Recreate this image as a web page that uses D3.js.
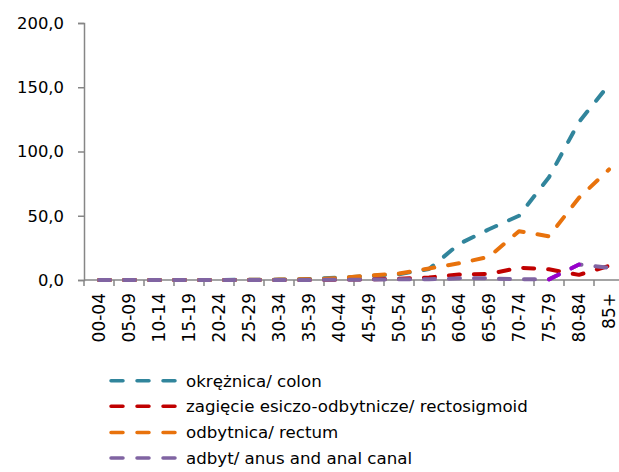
<!DOCTYPE html>
<html>
<head>
<meta charset="utf-8">
<script src="https://cdn.jsdelivr.net/npm/d3@7"></script>
<style>
  html, body { margin: 0; padding: 0; background: #fff; }
  svg { display: block; }
  text { font-family: "DejaVu Sans", "Open Sans", sans-serif; fill: #000; }
</style>
</head>
<body>
<svg id="chart" width="619" height="472"></svg>
<script>
// ---- data ----
const categories = ["00-04","05-09","10-14","15-19","20-24","25-29","30-34","35-39","40-44","45-49","50-54","55-59","60-64","65-69","70-74","75-79","80-84","85+"];
const colon        = [0, 0, 0, 0, 0, 0.2, 0.3, 0.8, 1.8, 3.0, 4.5, 8.5, 28, 39.5, 50, 80, 123, 152];
const rectosigmoid = [0, 0, 0, 0, 0, 0, 0, 0.1, 0.3, 0.5, 1.0, 2.0, 4.2, 4.7, 9.6, 8.3, 4.0, 11.0];
const rectum       = [0, 0, 0, 0, 0, 0.1, 0.3, 0.6, 1.5, 3.5, 5.0, 9.0, 13, 18, 38, 34, 64, 86];
const anus         = [0, 0, 0, 0, 0, 0, 0, 0, 0.2, 0.3, 0.5, 0.6, 1.3, 1.3, 0.5, 0.5, 12.0, 9.6];
const anusHighlight = ["75-79", "80-84"]; // segment drawn in a brighter purple
const yTicks = [0, 50, 100, 150, 200];
const seriesNames = ["okrężnica/ colon", "zagięcie esiczo-odbytnicze/ rectosigmoid", "odbytnica/ rectum", "adbyt/ anus and anal canal"];

const series = [
  { name: seriesNames[0], values: colon,        color: "#31859C" },
  { name: seriesNames[1], values: rectosigmoid, color: "#C00000" },
  { name: seriesNames[2], values: rectum,       color: "#E8720C" },
  { name: seriesNames[3], values: anus,         color: "#8064A2" }
];

// ---- layout ----
const svg = d3.select("#chart");
const x = d3.scaleBand().domain(categories).range([84, 624]).padding(0);
const y = d3.scaleLinear().domain([0, 200]).range([280, 23]);
const axisColor = "#868686";
const fmt = v => v.toFixed(1).replace(".", ",");
const cx = c => x(c) + x.bandwidth() / 2;

// y axis
const yAxis = svg.append("g").attr("transform", "translate(84,0)")
  .call(d3.axisLeft(y).tickValues(yTicks).tickSize(6).tickPadding(14).tickFormat(fmt));
yAxis.select(".domain").attr("stroke", axisColor).attr("stroke-width", 1.5);
yAxis.selectAll(".tick line").attr("stroke", axisColor).attr("stroke-width", 1.5);
yAxis.selectAll(".tick text").attr("font-size", 16.4).attr("font-family", "DejaVu Sans").attr("fill", "#000");

// x axis (ticks at band boundaries)
const xg = svg.append("g");
xg.append("line").attr("x1", 84).attr("x2", 624).attr("y1", y(0)).attr("y2", y(0))
  .attr("stroke", axisColor).attr("stroke-width", 1.5);
const bounds = categories.map(c => x(c)).concat([x(categories[categories.length-1]) + x.bandwidth()]);
xg.selectAll("line.tk").data(bounds).join("line").attr("class", "tk")
  .attr("x1", d => d).attr("x2", d => d).attr("y1", y(0)).attr("y2", y(0) + 6)
  .attr("stroke", axisColor).attr("stroke-width", 1.5);
xg.selectAll("text.xl").data(categories).join("text").attr("class", "xl")
  .attr("transform", d => `translate(${cx(d) + 6},293) rotate(-90)`)
  .attr("text-anchor", "end").attr("font-size", 17).text(d => d);

// lines
const line = d3.line().x((d, i) => cx(categories[i])).y(d => y(d));
const dash = "11,14";
const SW = 4;
series.forEach(s => {
  svg.append("path").datum(s.values).attr("d", line)
    .attr("fill", "none").attr("stroke", s.color).attr("stroke-width", SW)
    .attr("stroke-dasharray", dash).attr("stroke-linecap", "round").attr("stroke-linejoin", "round");
});
// highlighted anus segment, continuing the same dash phase
const i0 = categories.indexOf(anusHighlight[0]);
const i1 = categories.indexOf(anusHighlight[1]);
const tmp = svg.append("path").datum(anus.slice(0, i0 + 1)).attr("d", line).attr("fill", "none");
const offLen = tmp.node().getTotalLength();
tmp.remove();
const hi = [[cx(anusHighlight[0]), y(anus[i0])], [cx(anusHighlight[1]), y(anus[i1])]];
svg.append("path").datum(hi).attr("d", d3.line())
  .attr("fill", "none").attr("stroke", "#9900CC").attr("stroke-width", SW)
  .attr("stroke-dasharray", dash).attr("stroke-dashoffset", -offLen).attr("stroke-linecap", "round");

// legend
const lg = svg.append("g");
const legY = [380.7, 406.3, 432.5, 458];
series.forEach((s, i) => {
  lg.append("line").attr("x1", 111).attr("x2", 178).attr("y1", legY[i]).attr("y2", legY[i])
    .attr("stroke", s.color).attr("stroke-width", 3.5).attr("stroke-dasharray", "12,14")
    .attr("stroke-linecap", "round");
  lg.append("text").attr("x", 186).attr("y", legY[i]).attr("dy", "0.35em")
    .attr("font-size", 15).text(s.name);
});
// fit legend font size to the reference width of the longest entry (~342px)
const texts = lg.selectAll("text").nodes();
const w = texts[1].getComputedTextLength();
lg.selectAll("text").attr("font-size", 15 * 342 / w);
</script>
</body>
</html>
